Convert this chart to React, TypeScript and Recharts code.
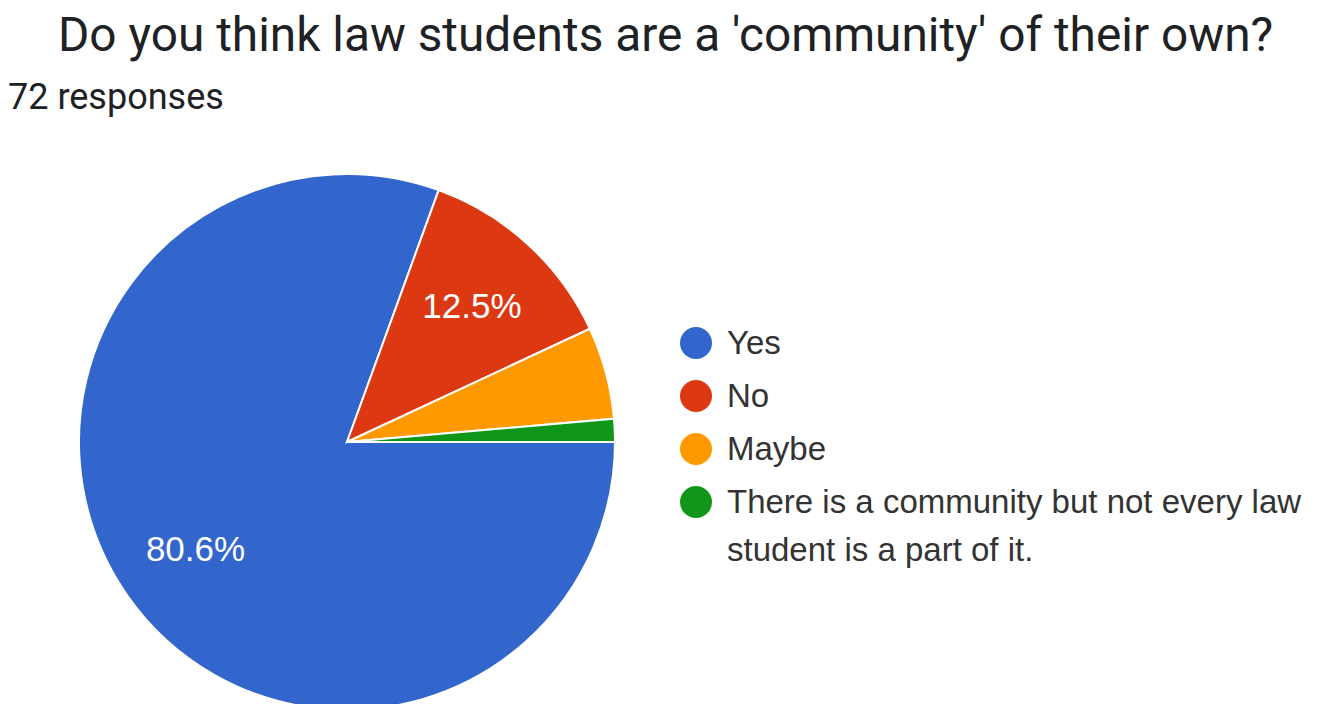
import React from "react";
import { PieChart, Pie, Cell, Legend } from "recharts";

const categories = [
  "Yes",
  "No",
  "Maybe",
  "There is a community but not every law student is a part of it.",
];
const responses = [58, 9, 4, 1];
const colors = ["#3366cc", "#dc3912", "#ff9900", "#109618"];
const titleText = "Do you think law students are a 'community' of their own?";
const subtitleText = "72 responses";

const data = categories.map((name, i) => ({ name, value: responses[i] }));
const total = responses.reduce((a, b) => a + b, 0);

const RAD = Math.PI / 180;

const renderLabel = (props: any) => {
  const { cx, cy, midAngle, outerRadius, value } = props;
  const pct = value / total;
  if (pct < 0.1) return null;
  const r = outerRadius * 0.69;
  const x = cx + r * Math.cos(-midAngle * RAD);
  const y = cy + r * Math.sin(-midAngle * RAD);
  return (
    <text
      x={x}
      y={y}
      fill="#ffffff"
      textAnchor="middle"
      dominantBaseline="central"
      fontFamily="'Liberation Sans', Arial, sans-serif"
      fontSize={35}
    >
      {(pct * 100).toFixed(1) + "%"}
    </text>
  );
};

const LegendContent = () => (
  <div style={{ fontFamily: "'Liberation Sans', Arial, sans-serif", fontSize: 33, color: "#333333" }}>
    {data.map((d, i) => (
      <div key={d.name} style={{ display: "flex", alignItems: "flex-start", marginBottom: 5 }}>
        <div
          style={{
            width: 32,
            height: 32,
            borderRadius: "50%",
            background: colors[i],
            flex: "0 0 32px",
            marginTop: 8,
            marginRight: 15,
          }}
        />
        <div style={{ lineHeight: "48px", width: 600 }}>{d.name}</div>
      </div>
    ))}
  </div>
);

export default function App() {
  return (
    <div style={{ position: "absolute", left: 0, top: 0, width: 1319, height: 704, background: "#fff", overflow: "hidden" }}>
      <div
        style={{
          position: "absolute",
          left: 58,
          top: 7,
          fontFamily: "Roboto, sans-serif",
          fontSize: 47.8,
          lineHeight: "56px",
          color: "#202124",
          whiteSpace: "nowrap",
        }}
      >
        {titleText}
      </div>
      <div
        style={{
          position: "absolute",
          left: 8,
          top: 77,
          fontFamily: "Roboto, sans-serif",
          fontSize: 36,
          lineHeight: "41px",
          color: "#202124",
          whiteSpace: "nowrap",
        }}
      >
        {subtitleText}
      </div>
      <PieChart width={1319} height={704} margin={{ top: 0, right: 0, bottom: 0, left: 0 }}>
        <Pie
          data={data}
          dataKey="value"
          nameKey="name"
          cx={347}
          cy={442}
          outerRadius={268}
          startAngle={0}
          endAngle={-360}
          stroke="#ffffff"
          strokeWidth={2}
          label={renderLabel}
          labelLine={false}
          isAnimationActive={false}
        >
          {data.map((d, i) => (
            <Cell key={d.name} fill={colors[i]} />
          ))}
        </Pie>
        <Legend
          content={<LegendContent />}
          wrapperStyle={{ position: "absolute", left: 680, top: 319, width: 640 }}
        />
      </PieChart>
    </div>
  );
}
